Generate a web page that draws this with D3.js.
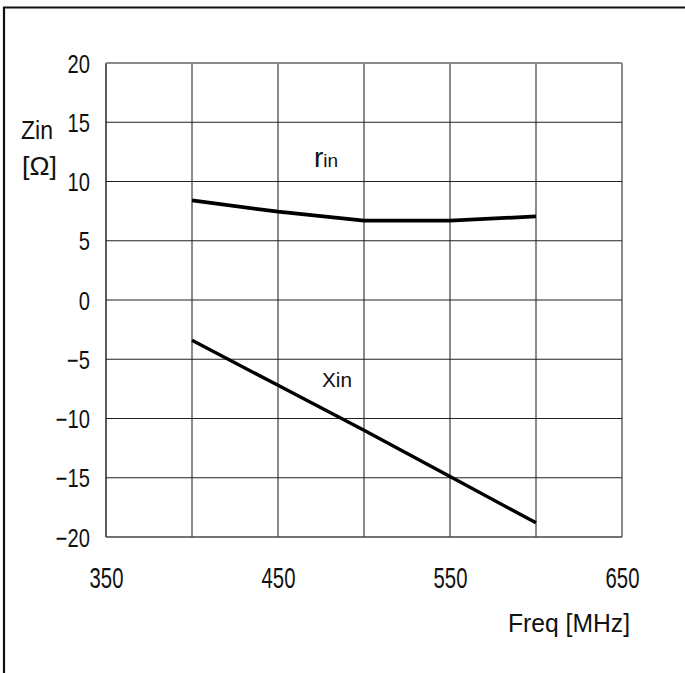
<!DOCTYPE html>
<html><head><meta charset="utf-8">
<script src="https://cdn.jsdelivr.net/npm/d3@7"></script>
<style>body{margin:0;background:#fff}svg{display:block}text{font-family:"Liberation Sans",Arial,sans-serif;fill:#111}</style>
</head><body>
<script>
const freq = [400, 450, 500, 550, 600];
const rin = [8.4, 7.45, 6.7, 6.7, 7.05];
const xin = [-3.4, -7.2, -11.0, -14.9, -18.8];
const xTicks = [350, 450, 550, 650];
const xGrid = [350, 400, 450, 500, 550, 600, 650];
const yTicks = [20, 15, 10, 5, 0, -5, -10, -15, -20];

const W = 685, H = 673;
const svg = d3.select("body").append("svg").attr("width", W).attr("height", H);
svg.append("rect").attr("width", W).attr("height", H).attr("fill", "#fff");
// outer frame (top and left)
svg.append("path").attr("d", `M4,${H} L4,7.5 L${W},7.5`).attr("fill", "none").attr("stroke", "#111").attr("stroke-width", 2.2);

const x = d3.scaleLinear().domain([350, 650]).range([106, 622]);
const y = d3.scaleLinear().domain([-20, 20]).range([537, 63]);

// grid
const g = svg.append("g");
g.selectAll("line.v").data(xGrid).join("line").attr("class", "v")
  .attr("x1", d => x(d)).attr("x2", d => x(d)).attr("y1", y(20)).attr("y2", y(-20))
  .attr("stroke", d => d === 350 ? "#333" : "#8a8a8a").attr("stroke-width", d => d === 350 ? 1.6 : 2);
g.selectAll("line.h").data(yTicks).join("line").attr("class", "h")
  .attr("x1", x(350)).attr("x2", x(650)).attr("y1", d => y(d)).attr("y2", d => y(d))
  .attr("stroke", d => d === 20 ? "#8a8a8a" : (d === -20 ? "#444" : "#222"))
  .attr("stroke-width", d => d === 20 ? 2 : (d === -20 ? 1.6 : 1.1));

// y tick labels
const yAxis = svg.append("g").attr("transform", "translate(90,0)")
  .call(d3.axisLeft(y).tickValues(yTicks).tickSize(0).tickPadding(0)
    .tickFormat(d => d < 0 ? "\u2212" + Math.abs(d) : String(d)));
yAxis.select(".domain").remove();
yAxis.selectAll("text").attr("font-size", 25.5).attr("dy", "0.36em")
  .attr("transform", "scale(0.79,1)")
  .style("font-family", '"Liberation Sans",Arial,sans-serif').attr("fill", "#111");

// x tick labels
const xAxis = svg.append("g").attr("transform", "translate(0,578)")
  .call(d3.axisBottom(x).tickValues(xTicks).tickSize(0).tickPadding(0).tickFormat(d => String(d)));
xAxis.select(".domain").remove();
xAxis.selectAll("text").attr("font-size", 29).attr("dy", "0.36em").attr("y", 0)
  .attr("transform", "scale(0.7,1)")
  .style("font-family", '"Liberation Sans",Arial,sans-serif').attr("fill", "#111");

// lines
const line = d3.line().x(d => x(d[0])).y(d => y(d[1]));
svg.append("path").datum(freq.map((f, i) => [f, rin[i]])).attr("d", line)
  .attr("fill", "none").attr("stroke", "#000").attr("stroke-width", 3.8);
svg.append("path").datum(freq.map((f, i) => [f, xin[i]])).attr("d", line)
  .attr("fill", "none").attr("stroke", "#000").attr("stroke-width", 3.4);

// labels
const rl = svg.append("text").attr("x", 314).attr("y", 167);
rl.append("tspan").attr("font-size", 28).text("r");
rl.append("tspan").attr("font-size", 19).text("in");
svg.append("text").attr("x", 322).attr("y", 387).attr("font-size", 21).text("Xin")
  .attr("textLength", 30).attr("lengthAdjust", "spacingAndGlyphs");

svg.append("text").attr("x", 21).attr("y", 139).attr("font-size", 26).text("Zin")
  .attr("textLength", 32).attr("lengthAdjust", "spacingAndGlyphs");
svg.append("text").attr("x", 22).attr("y", 175).attr("font-size", 25).text("[\u03A9]")
  .attr("textLength", 35).attr("lengthAdjust", "spacingAndGlyphs");

svg.append("text").attr("x", 508).attr("y", 632).attr("font-size", 25).text("Freq [MHz]")
  .attr("textLength", 122).attr("lengthAdjust", "spacingAndGlyphs");
</script>
</body></html>
